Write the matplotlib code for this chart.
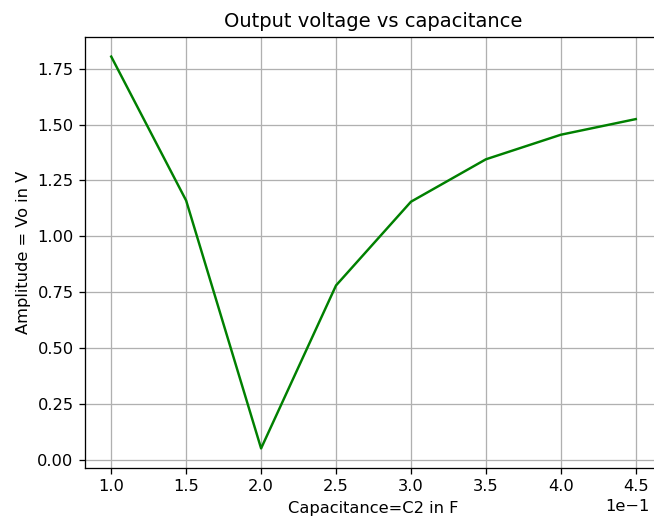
import numpy as np
import matplotlib
matplotlib.use('Agg')
import matplotlib.pyplot as plt

# емкость C2 (Ф) и амплитуда выхода (В)
C2 = [0.10, 0.15, 0.20, 0.25, 0.30, 0.35, 0.40, 0.45]
Vo = [1.805, 1.16, 0.05, 0.78, 1.155, 1.345, 1.455, 1.525]

DPI = 117
fig, ax = plt.subplots(figsize=(654 / DPI, 517 / DPI), dpi=DPI)
ax.plot(C2, Vo, color='green', lw=1.5)
ax.ticklabel_format(style='sci', axis='x', scilimits=(0, 0))
ax.set_title('Output voltage vs capacitance')
ax.set_xlabel('Capacitance=C2 in F')
ax.set_ylabel('Amplitude = Vo in V')
ax.grid(True)

# правая граница осей уходит за край картинки, как в оригинале
fig.subplots_adjust(left=85 / 654, right=662 / 654, top=1 - 37 / 517, bottom=1 - 468 / 517)
ax.xaxis.get_offset_text().set_x(0.979)
plt.savefig('out.png', dpi=DPI)
